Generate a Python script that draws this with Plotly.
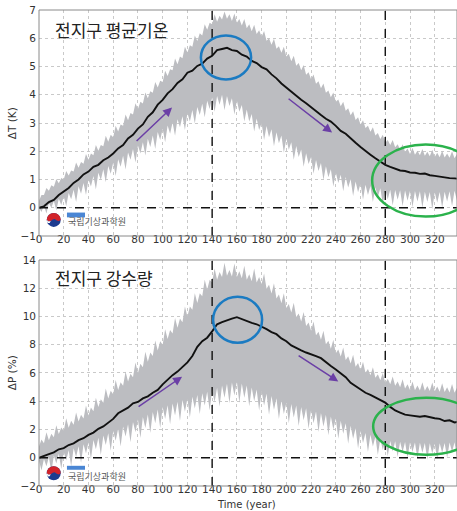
import plotly.graph_objects as go

# ---------------- data ----------------
MEAN_YEARS = list(range(0, 341, 4))
BAND_YEARS = list(range(0, 341, 2))

T_MEAN = [0.00, 0.05, 0.20, 0.28, 0.45, 0.58, 0.70, 0.88, 1.00, 1.18,
          1.28, 1.45, 1.52, 1.68, 1.78, 1.92, 2.10, 2.22, 2.45, 2.58,
          2.80, 2.95, 3.22, 3.38, 3.65, 3.82, 4.05, 4.20, 4.42, 4.55,
          4.78, 4.85, 5.02, 5.10, 5.28, 5.38, 5.58, 5.62, 5.66, 5.58,
          5.55, 5.42, 5.35, 5.20, 5.12, 4.98, 4.90, 4.72, 4.58, 4.40,
          4.25, 4.10, 3.98, 3.82, 3.70, 3.55, 3.42, 3.28, 3.15, 3.05,
          2.90, 2.72, 2.62, 2.45, 2.30, 2.15, 2.00, 1.88, 1.75, 1.62,
          1.52, 1.45, 1.38, 1.32, 1.30, 1.25, 1.24, 1.20, 1.21, 1.15,
          1.13, 1.10, 1.08, 1.05, 1.04, 1.02]

T_UPPER = [0.25, 0.45, 0.45, 0.70, 0.60, 0.80, 0.74, 1.02, 0.87, 1.05,
           1.00, 1.30, 1.14, 1.32, 1.28, 1.60, 1.42, 1.62, 1.56, 1.90,
           1.70, 1.92, 1.86, 2.22, 2.02, 2.22, 2.18, 2.55, 2.34, 2.58,
           2.50, 2.90, 2.70, 2.95, 2.90, 3.30, 3.10, 3.35, 3.30, 3.70,
           3.50, 3.75, 3.69, 4.08, 3.88, 4.12, 4.07, 4.45, 4.26, 4.50,
           4.45, 4.85, 4.66, 4.90, 4.87, 5.28, 5.08, 5.35, 5.29, 5.70,
           5.50, 5.75, 5.70, 6.10, 5.90, 6.18, 6.10, 6.50, 6.30, 6.55,
           6.50, 6.85, 6.58, 6.80, 6.66, 6.95, 6.69, 6.85, 6.61, 6.88,
           6.55, 6.68, 6.45, 6.68, 6.35, 6.50, 6.25, 6.48, 6.15, 6.28,
           6.05, 6.26, 5.91, 6.00, 5.77, 5.98, 5.63, 5.72, 5.49, 5.70,
           5.35, 5.45, 5.19, 5.38, 5.03, 5.12, 4.87, 5.05, 4.71, 4.80,
           4.55, 4.72, 4.39, 4.48, 4.23, 4.40, 4.07, 4.15, 3.91, 4.08,
           3.75, 3.83, 3.59, 3.75, 3.43, 3.52, 3.27, 3.42, 3.11, 3.20,
           2.95, 3.10, 2.82, 2.90, 2.69, 2.85, 2.56, 2.65, 2.43, 2.58,
           2.30, 2.40, 2.22, 2.40, 2.14, 2.25, 2.06, 2.25, 1.98, 2.10,
           1.90, 2.12, 1.88, 2.02, 1.86, 2.08, 1.84, 1.98, 1.82, 2.05,
           1.80, 1.95, 1.79, 2.02, 1.78, 1.92, 1.77, 2.00, 1.75, 1.90,
           1.74]

T_LOWER = [0.00, -0.15, 0.08, -0.20, 0.16, 0.00, 0.24, -0.10, 0.32, 0.10,
           0.40, 0.05, 0.52, 0.30, 0.64, 0.20, 0.76, 0.50, 0.88, 0.45,
           1.00, 0.75, 1.12, 0.65, 1.24, 0.98, 1.36, 0.90, 1.48, 1.20,
           1.60, 1.12, 1.72, 1.45, 1.84, 1.35, 1.96, 1.70, 2.08, 1.60,
           2.20, 1.92, 2.32, 1.85, 2.44, 2.15, 2.56, 2.08, 2.68, 2.40,
           2.80, 2.32, 2.91, 2.62, 3.02, 2.55, 3.13, 2.85, 3.24, 2.75,
           3.35, 3.05, 3.46, 2.98, 3.57, 3.28, 3.68, 3.20, 3.79, 3.50,
           3.90, 3.40, 3.96, 3.65, 4.00, 3.45, 3.96, 3.60, 3.88, 3.30,
           3.80, 3.40, 3.64, 3.05, 3.48, 3.05, 3.32, 2.70, 3.16, 2.75,
           3.00, 2.40, 2.89, 2.50, 2.78, 2.18, 2.67, 2.28, 2.56, 1.95,
           2.45, 2.05, 2.32, 1.70, 2.19, 1.80, 2.06, 1.45, 1.93, 1.55,
           1.80, 1.20, 1.69, 1.30, 1.58, 0.98, 1.47, 1.08, 1.36, 0.75,
           1.25, 0.88, 1.17, 0.58, 1.09, 0.72, 1.01, 0.42, 0.93, 0.55,
           0.85, 0.28, 0.81, 0.45, 0.77, 0.20, 0.73, 0.38, 0.69, 0.12,
           0.65, 0.30, 0.64, 0.08, 0.63, 0.28, 0.62, 0.05, 0.61, 0.25,
           0.60, 0.02, 0.59, 0.22, 0.58, 0.00, 0.57, 0.20, 0.56, -0.05,
           0.55, 0.18, 0.56, 0.00, 0.57, 0.22, 0.58, 0.05, 0.60, 0.25,
           0.60]

P_MEAN = [0.00, 0.10, 0.25, 0.38, 0.60, 0.68, 0.90, 1.02, 1.25, 1.38,
          1.62, 1.78, 2.05, 2.22, 2.50, 2.75, 3.15, 3.35, 3.55, 3.85,
          3.95, 4.20, 4.35, 4.60, 4.80, 5.20, 5.55, 5.85, 6.10, 6.40,
          6.75, 7.20, 7.85, 8.25, 8.50, 8.95, 9.45, 9.60, 9.75, 9.85,
          9.95, 9.80, 9.70, 9.55, 9.45, 9.30, 9.10, 8.90, 8.75, 8.45,
          8.25, 7.95, 7.75, 7.60, 7.45, 7.35, 7.20, 7.05, 6.75, 6.50,
          6.25, 5.95, 5.70, 5.30, 5.05, 4.85, 4.60, 4.45, 4.25, 4.10,
          3.90, 3.60, 3.35, 3.20, 3.05, 3.00, 2.95, 2.90, 2.95, 2.85,
          2.80, 2.75, 2.60, 2.65, 2.50, 2.55]

P_UPPER = [0.80, 1.30, 1.02, 1.80, 1.24, 1.70, 1.46, 2.30, 1.68, 2.15,
           1.90, 2.80, 2.12, 2.62, 2.34, 3.20, 2.56, 3.05, 2.78, 3.70,
           3.00, 3.55, 3.30, 4.25, 3.60, 4.15, 3.90, 4.90, 4.20, 4.75,
           4.50, 5.50, 4.80, 5.35, 5.10, 6.10, 5.40, 5.95, 5.70, 6.75,
           6.00, 6.65, 6.40, 7.50, 6.80, 7.45, 7.20, 8.30, 7.60, 8.25,
           8.00, 9.10, 8.40, 9.05, 8.80, 9.90, 9.20, 9.85, 9.60, 10.70,
           10.00, 10.70, 10.48, 11.65, 10.96, 11.65, 11.44, 12.60, 11.92, 12.60,
           12.40, 13.40, 12.60, 13.15, 12.80, 13.80, 12.88, 13.30, 12.84, 13.75,
           12.80, 13.20, 12.70, 13.60, 12.60, 13.00, 12.50, 13.40, 12.40, 12.80,
           12.30, 13.05, 11.96, 12.25, 11.62, 12.35, 11.28, 11.55, 10.94, 11.65,
           10.60, 10.88, 10.28, 10.98, 9.96, 10.22, 9.64, 10.32, 9.32, 9.58,
           9.00, 9.65, 8.68, 8.92, 8.36, 9.00, 8.04, 8.28, 7.72, 8.35,
           7.40, 7.66, 7.16, 7.80, 6.92, 7.18, 6.68, 7.30, 6.44, 6.70,
           6.20, 6.80, 6.02, 6.28, 5.84, 6.40, 5.66, 5.92, 5.48, 6.00,
           5.30, 5.60, 5.20, 5.75, 5.10, 5.40, 5.00, 5.55, 4.90, 5.20,
           4.80, 5.40, 4.78, 5.12, 4.76, 5.35, 4.74, 5.08, 4.72, 5.32,
           4.70, 5.05, 4.68, 5.28, 4.65, 5.00, 4.62, 5.22, 4.60, 4.95,
           4.58]

P_LOWER = [-0.20, -0.90, -0.08, -0.60, 0.04, -1.00, 0.16, -0.40, 0.28, -0.80,
           0.40, -0.20, 0.54, -0.60, 0.68, 0.05, 0.82, -0.35, 0.96, 0.30,
           1.10, -0.10, 1.26, 0.60, 1.42, 0.20, 1.58, 0.90, 1.74, 0.50,
           1.90, 1.20, 2.06, 0.80, 2.22, 1.50, 2.38, 1.10, 2.54, 1.80,
           2.70, 1.40, 2.88, 2.10, 3.06, 1.75, 3.24, 2.45, 3.42, 2.10,
           3.60, 2.75, 3.72, 2.38, 3.84, 3.00, 3.96, 2.60, 4.08, 3.25,
           4.20, 2.85, 4.32, 3.48, 4.44, 3.10, 4.56, 3.70, 4.68, 3.35,
           4.80, 3.95, 4.96, 3.62, 5.12, 4.25, 5.24, 3.85, 5.32, 4.40,
           5.40, 3.90, 5.26, 4.25, 5.12, 3.65, 4.98, 4.00, 4.84, 3.35,
           4.70, 3.70, 4.54, 3.05, 4.38, 3.40, 4.22, 2.75, 4.06, 3.10,
           3.90, 2.45, 3.80, 2.85, 3.70, 2.25, 3.60, 2.65, 3.50, 2.05,
           3.40, 2.45, 3.28, 1.82, 3.16, 2.22, 3.04, 1.60, 2.92, 2.00,
           2.80, 1.35, 2.62, 1.70, 2.44, 1.00, 2.26, 1.35, 2.08, 0.65,
           1.90, 1.05, 1.76, 0.40, 1.62, 0.80, 1.48, 0.20, 1.34, 0.55,
           1.20, 0.10, 1.18, 0.45, 1.16, 0.05, 1.14, 0.40, 1.12, 0.00,
           1.10, 0.40, 1.08, -0.05, 1.06, 0.35, 1.04, -0.15, 1.02, 0.30,
           1.00, -0.10, 1.02, 0.35, 1.05, 0.00, 1.08, 0.40, 1.10, 0.05,
           1.10]

X_TICKS = list(range(0, 341, 20))
T_TICKS = [-1, 0, 1, 2, 3, 4, 5, 6, 7]
P_TICKS = [-2, 0, 2, 4, 6, 8, 10, 12, 14]
REF_YEARS = [140, 280]

TITLE_T = "전지구 평균기온"
TITLE_P = "전지구 강수량"
LOGO_TEXT = "국립기상과학원"

# ---------------- styling ----------------
BAND = "#bcbdc1"
GRID = "#c9c9c9"
FRAME = "#8a8a8a"
TICKFONT = dict(family="DejaVu Sans", size=10.5, color="#333333")
KFONT = "Noto Sans CJK KR"
PURPLE = "#6b3fa6"
BLUE = "#1b7bc2"
GREEN = "#2bb24c"
TOP_DOMAIN = [0.5252, 1]
BOT_DOMAIN = [0, 0.4748]
LABEL_LIFT = 0.009   # raises x tick labels a few px toward the axis

fig = go.Figure()


def add_panel(xa, ya, mean, upper, lower):
    fig.add_trace(go.Scatter(x=BAND_YEARS, y=lower, xaxis=xa, yaxis=ya, mode="lines",
                             line=dict(width=0, color=BAND), hoverinfo="skip",
                             showlegend=False))
    fig.add_trace(go.Scatter(x=BAND_YEARS, y=upper, xaxis=xa, yaxis=ya, mode="lines",
                             line=dict(width=0, color=BAND), fill="tonexty",
                             fillcolor=BAND, hoverinfo="skip", showlegend=False))
    fig.add_trace(go.Scatter(x=MEAN_YEARS, y=mean, xaxis=xa, yaxis=ya, mode="lines",
                             line=dict(width=1.9, color="#111111"), showlegend=False))


add_panel("x", "y", T_MEAN, T_UPPER, T_LOWER)
add_panel("x2", "y2", P_MEAN, P_UPPER, P_LOWER)

XR = [0, 338]
common_x = dict(range=XR, tickvals=X_TICKS, showgrid=True, gridcolor=GRID,
                griddash="dot", gridwidth=1, showline=False, zeroline=False,
                ticks="", tickfont=TICKFONT, domain=[0, 1])
common_y = dict(showgrid=True, gridcolor=GRID, griddash="dot", gridwidth=1,
                showline=False, zeroline=False, ticks="", tickfont=TICKFONT,
                ticklabelstandoff=2)

fig.update_layout(
    width=457, height=511,
    margin=dict(l=39, r=0, t=10, b=25),
    paper_bgcolor="white", plot_bgcolor="white",
    xaxis=dict(anchor="free", position=TOP_DOMAIN[0] + LABEL_LIFT, **common_x),
    yaxis=dict(anchor="x", domain=TOP_DOMAIN, range=[T_TICKS[0], T_TICKS[-1]],
               tickvals=T_TICKS, **common_y),
    xaxis2=dict(anchor="free", position=BOT_DOMAIN[0] + LABEL_LIFT, **common_x),
    yaxis2=dict(anchor="x2", domain=BOT_DOMAIN, range=[P_TICKS[0], P_TICKS[-1]],
                tickvals=P_TICKS, **common_y),
)

shapes = []
for xr, yr, ylo, yhi in (("x", "y", T_TICKS[0], T_TICKS[-1]),
                         ("x2", "y2", P_TICKS[0], P_TICKS[-1])):
    for ry in REF_YEARS:
        shapes.append(dict(type="line", xref=xr, yref=yr, x0=ry, x1=ry,
                           y0=ylo, y1=yhi,
                           line=dict(color="#111111", width=1.4, dash="dash")))
    shapes.append(dict(type="line", xref=xr, yref=yr, x0=XR[0], x1=XR[1],
                       y0=0, y1=0,
                       line=dict(color="#111111", width=1.4, dash="dash")))
    # axes frame
    shapes.append(dict(type="rect", xref=xr + " domain", yref=yr + " domain",
                       x0=0, x1=1, y0=0, y1=1, line=dict(color=FRAME, width=1)))

# highlight circles
shapes += [
    dict(type="circle", xref="x", yref="y", x0=130.9, x1=171.5, y0=4.54, y1=6.10,
         line=dict(color=BLUE, width=2.5)),
    dict(type="circle", xref="x2", yref="y2", x0=140.8, x1=180.4, y0=8.14, y1=11.4,
         line=dict(color=BLUE, width=2.5)),
    dict(type="circle", xref="x", yref="y", x0=269.4, x1=356, y0=-0.31, y1=2.24,
         line=dict(color=GREEN, width=2.5)),
    dict(type="circle", xref="x2", yref="y2", x0=270.2, x1=356, y0=0.21, y1=4.25,
         line=dict(color=GREEN, width=2.5)),
]

# logos
annotations = []
for xr, yr, cy, ty, by0, by1 in (("x", "y", -0.43, -0.48, -0.34, -0.17),
                                  ("x2", "y2", -1.10, -1.35, -0.85, -0.57)):
    shapes.append(dict(type="circle", xref=xr, yref=yr, xsizemode="pixel",
                       ysizemode="pixel", xanchor=11.9, yanchor=cy,
                       x0=-7, x1=7, y0=-7, y1=7, fillcolor="#1d3c8f",
                       line=dict(width=0)))
    shapes.append(dict(type="path", xref=xr, yref=yr, xsizemode="pixel",
                       ysizemode="pixel", xanchor=11.9, yanchor=cy,
                       path="M -7,0 L -6.5,2.7 L -5,5 L -2.7,6.5 L 0,7 L 2.7,6.5 "
                            "L 5,5 L 6.5,2.7 L 7,0 L 5,-1.2 L 3,-0.5 L 1,1 "
                            "L -1,0.5 L -3,-1 L -5,-1.5 Z",
                       fillcolor="#d2232a", line=dict(width=0)))
    shapes.append(dict(type="path", xref=xr, yref=yr, xsizemode="pixel",
                       ysizemode="pixel", xanchor=11.9, yanchor=cy,
                       path="M -7,0 L -5,-1.5 L -3,-1 L -4,-3 L -6.2,-3.2 Z",
                       fillcolor="white", line=dict(width=0)))
    shapes.append(dict(type="rect", xref=xr, yref=yr, x0=22.6, x1=37.2,
                       y0=by0, y1=by1, fillcolor="#4a86d4", line=dict(width=0)))
    annotations.append(dict(xref=xr, yref=yr, x=22.2, y=ty, text=LOGO_TEXT,
                            showarrow=False, xanchor="left", yanchor="middle",
                            font=dict(family=KFONT, size=9, color="#555555")))

# arrows
for xr, yr, x0, y0, x1, y1 in (("x", "y", 77.7, 2.31, 107.6, 3.55),
                               ("x", "y", 200.6, 3.9, 237.0, 2.66),
                               ("x2", "y2", 79.3, 3.54, 115.7, 5.74),
                               ("x2", "y2", 208.7, 7.3, 242.0, 5.4)):
    annotations.append(dict(xref=xr, yref=yr, axref=xr, ayref=yr, x=x1, y=y1,
                            ax=x0, ay=y0, text="", showarrow=True, arrowhead=2,
                            arrowsize=1.2, arrowwidth=1.5, arrowcolor=PURPLE))

# titles and axis labels
annotations += [
    dict(xref="paper", yref="paper", x=0.0335, y=0.960, text=TITLE_T,
         showarrow=False, xanchor="left", yanchor="middle",
         font=dict(family=KFONT, size=17, color="#222222")),
    dict(xref="paper", yref="paper", x=0.0335, y=0.439, text=TITLE_P,
         showarrow=False, xanchor="left", yanchor="middle",
         font=dict(family=KFONT, size=17, color="#222222")),
    dict(xref="paper", yref="paper", x=-0.0640, y=0.7626, text="ΔT (K)",
         showarrow=False, textangle=-90, xanchor="center", yanchor="middle",
         font=dict(family="DejaVu Sans", size=10.5, color="#333333")),
    dict(xref="paper", yref="paper", x=-0.0640, y=0.2374, text="ΔP (%)",
         showarrow=False, textangle=-90, xanchor="center", yanchor="middle",
         font=dict(family="DejaVu Sans", size=10.5, color="#333333")),
    dict(xref="paper", yref="paper", x=0.4976, y=-0.0380, text="Time (year)",
         showarrow=False, xanchor="center", yanchor="middle",
         font=dict(family="DejaVu Sans", size=10, color="#333333")),
]

fig.update_layout(shapes=shapes, annotations=annotations)
fig.write_html(
    "out.html",
    config={"displayModeBar": False},
    post_script="document.body.style.margin='0';"
                "document.body.style.overflow='hidden';",
)
